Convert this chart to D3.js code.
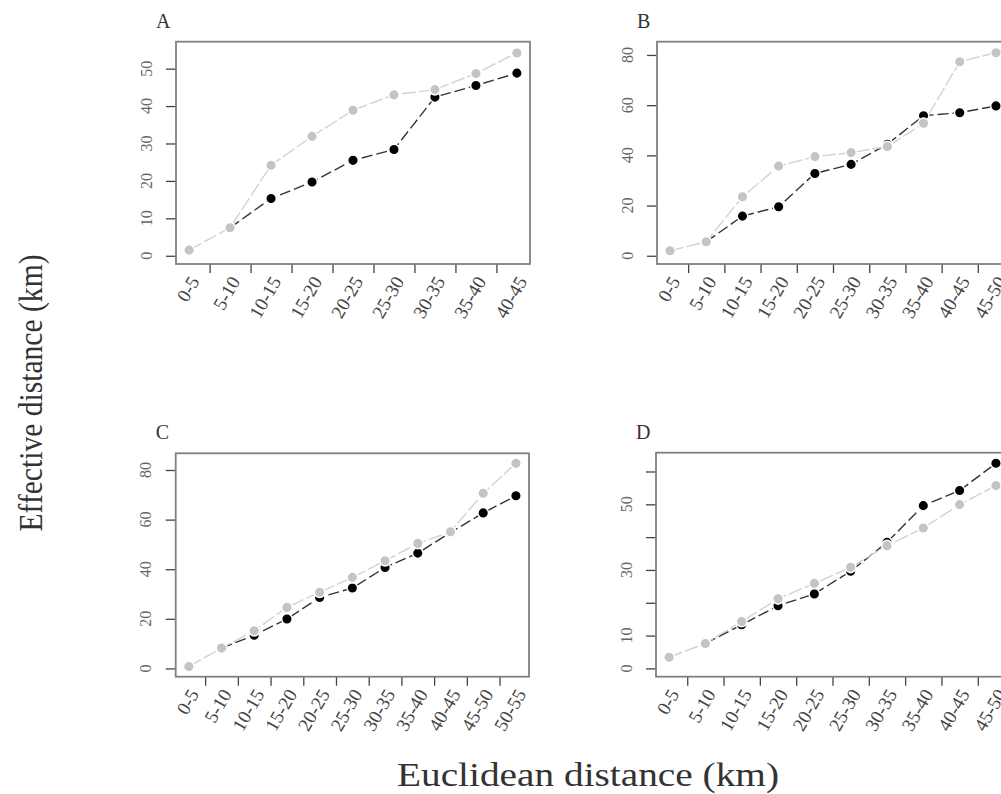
<!DOCTYPE html>
<html><head><meta charset="utf-8">
<script src="https://cdn.jsdelivr.net/npm/d3@7"></script>
<style>body{margin:0;background:#fff}svg{display:block}</style>
</head><body>
<svg id="chart" width="1001" height="794"></svg>
<script>
// ---- data ----
const catsA = ["0-5","5-10","10-15","15-20","20-25","25-30","30-35","35-40","40-45"];
const catsB = ["0-5","5-10","10-15","15-20","20-25","25-30","30-35","35-40","40-45","45-50"];
const catsC = ["0-5","5-10","10-15","15-20","20-25","25-30","30-35","35-40","40-45","45-50","50-55"];
const catsD = ["0-5","5-10","10-15","15-20","20-25","25-30","30-35","35-40","40-45","45-50"];

const greyA  = [1.5, 7.5, 24.2, 31.9, 38.9, 43.0, 44.4, 48.7, 54.2];
const blackA = [null, null, 15.3, 19.7, 25.5, 28.4, 42.4, 45.5, 48.8];
const greyB  = [2.0, 5.6, 23.5, 35.7, 39.5, 41.1, 43.5, 52.8, 77.3, 80.9];
const blackB = [null, null, 15.8, 19.5, 32.8, 36.4, 44.4, 55.8, 57.0, 59.7];
const greyC  = [0.8, 8.2, 15.2, 24.6, 30.7, 36.7, 43.4, 50.4, 55.1, 70.6, 82.7];
const blackC = [null, null, 13.4, 19.9, 28.6, 32.4, 40.7, 46.5, 54.8, 62.7, 69.6];
const greyD  = [3.4, 7.6, 14.3, 21.2, 25.9, 30.8, 37.4, 42.8, 49.9, 55.7];
const blackD = [null, null, 13.3, 19.1, 22.7, 29.6, 38.4, 49.6, 54.2, 62.5];

const yTicksA = [0, 10, 20, 30, 40, 50];
const yTicksB = [0, 20, 40, 60, 80];
const yTicksC = [0, 20, 40, 60, 80];
const yTicksD = [0, 10, 20, 30, 40, 50, 60];
const yTickLabelsA = ["0","10","20","30","40","50"];
const yTickLabelsB = ["0","20","40","60","80"];
const yTickLabelsC = ["0","20","40","60","80"];
const yTickLabelsD = ["0","10","","30","","50",""];

const yLimA = [0, 55];
const yLimB = [0, 82];
const yLimC = [0, 83.4];
const yLimD = [0, 63.2];

const panelLetters = ["A","B","C","D"];
const yTitle = "Effective distance (km)";
const xTitle = "Euclidean distance (km)";

// ---- layout ----
const boxes = [
  {l:176, t:41.7, r:530, b:264},
  {l:657, t:41.7, r:1009, b:264},
  {l:175.7, t:453.3, r:529, b:676.7},
  {l:656, t:452.7, r:1009, b:676.7}
];

const panels = [
  {cats:catsA, grey:greyA, black:blackA, ticks:yTicksA, tickLabels:yTickLabelsA, lim:yLimA},
  {cats:catsB, grey:greyB, black:blackB, ticks:yTicksB, tickLabels:yTickLabelsB, lim:yLimB},
  {cats:catsC, grey:greyC, black:blackC, ticks:yTicksC, tickLabels:yTickLabelsC, lim:yLimC},
  {cats:catsD, grey:greyD, black:blackD, ticks:yTicksD, tickLabels:yTickLabelsD, lim:yLimD}
];

const svg = d3.select("#chart");
const serif = "'Times New Roman','Liberation Serif',Times,serif";

panels.forEach((p, k) => {
  const bx = boxes[k];
  const n = p.cats.length;
  const xpad = 0.04 * (n - 1);
  const x = d3.scaleLinear().domain([-xpad, n - 1 + xpad]).range([bx.l, bx.r]);
  const R = p.lim[1] - p.lim[0];
  const y = d3.scaleLinear().domain([p.lim[0] - 0.04 * R, p.lim[1] + 0.04 * R]).range([bx.b, bx.t]);
  const g = svg.append("g");

  // panel letter
  g.append("text").attr("x", bx.l - 20).attr("y", bx.t - 14)
    .attr("font-family", serif).attr("font-size", 20).attr("fill", "#333")
    .text(panelLetters[k]);

  // y axis ticks
  const yAxis = d3.axisLeft(y).tickValues(p.ticks).tickSize(10).tickFormat("");
  const ya = g.append("g").attr("transform", `translate(${bx.l},0)`).call(yAxis);
  ya.select(".domain").remove();
  ya.selectAll(".tick line").attr("stroke", "#444").attr("stroke-width", 1.3);
  p.ticks.forEach((t, i) => {
    g.append("text")
      .attr("transform", `translate(${bx.l - 30},${y(t)}) rotate(-90)`)
      .attr("text-anchor", "middle").attr("dy", "0.35em")
      .attr("font-family", serif).attr("font-size", 16).attr("fill", "#666")
      .text(p.tickLabels[i]);
  });

  // x axis ticks at midpoints between categories
  const mids = d3.range(n - 1).map(i => i + 0.5);
  const xAxis = d3.axisBottom(x).tickValues(mids).tickSize(9).tickFormat("");
  const xa = g.append("g").attr("transform", `translate(0,${bx.b})`).call(xAxis);
  xa.select(".domain").remove();
  xa.selectAll(".tick line").attr("stroke", "#444").attr("stroke-width", 1.3);
  p.cats.forEach((c, i) => {
    g.append("text")
      .attr("transform", `translate(${x(i) + 5},${bx.b + 14}) rotate(-60)`)
      .attr("text-anchor", "end").attr("dy", "0.35em")
      .attr("font-family", serif).attr("font-size", 19).attr("fill", "#444")
      .text(c);
  });

  // box
  g.append("rect").attr("x", bx.l).attr("y", bx.t)
    .attr("width", bx.r - bx.l).attr("height", bx.b - bx.t)
    .attr("fill", "none").attr("stroke", "#808080").attr("stroke-width", 1.8);

  // series
  const greyPts = p.grey.map((v, i) => ({i, v}));
  const blackPts = p.black.map((v, i) => ({i, v})).filter(d => d.v != null);
  const first = blackPts[0].i;
  const blackLinePts = [{i: first - 1, v: p.grey[first - 1]}].concat(blackPts);
  const line = d3.line().x(d => x(d.i)).y(d => y(d.v));

  g.append("path").datum(blackLinePts).attr("d", line)
    .attr("fill", "none").attr("stroke", "#333").attr("stroke-width", 1.4)
    .attr("stroke-dasharray", "11,4");
  g.append("path").datum(greyPts).attr("d", line)
    .attr("fill", "none").attr("stroke", "#d2d2d2").attr("stroke-width", 1.4)
    .attr("stroke-dasharray", "14,3");

  g.selectAll(null).data(blackPts).enter().append("circle")
    .attr("cx", d => x(d.i)).attr("cy", d => y(d.v)).attr("r", 5.3)
    .attr("fill", "#000").attr("stroke", "#fff").attr("stroke-width", 1.5);
  g.selectAll(null).data(greyPts).enter().append("circle")
    .attr("cx", d => x(d.i)).attr("cy", d => y(d.v)).attr("r", 5.3)
    .attr("fill", "#c4c4c4").attr("stroke", "#fff").attr("stroke-width", 1.5);
});

// axis titles
svg.append("text")
  .attr("transform", "translate(42,393) rotate(-90)")
  .attr("text-anchor", "middle")
  .attr("font-family", serif).attr("font-size", 34).attr("fill", "#333")
  .attr("textLength", 277).attr("lengthAdjust", "spacingAndGlyphs")
  .text(yTitle);
svg.append("text")
  .attr("x", 588).attr("y", 786)
  .attr("text-anchor", "middle")
  .attr("font-family", serif).attr("font-size", 33).attr("fill", "#333")
  .attr("textLength", 382).attr("lengthAdjust", "spacingAndGlyphs")
  .text(xTitle);
</script>
</body></html>
